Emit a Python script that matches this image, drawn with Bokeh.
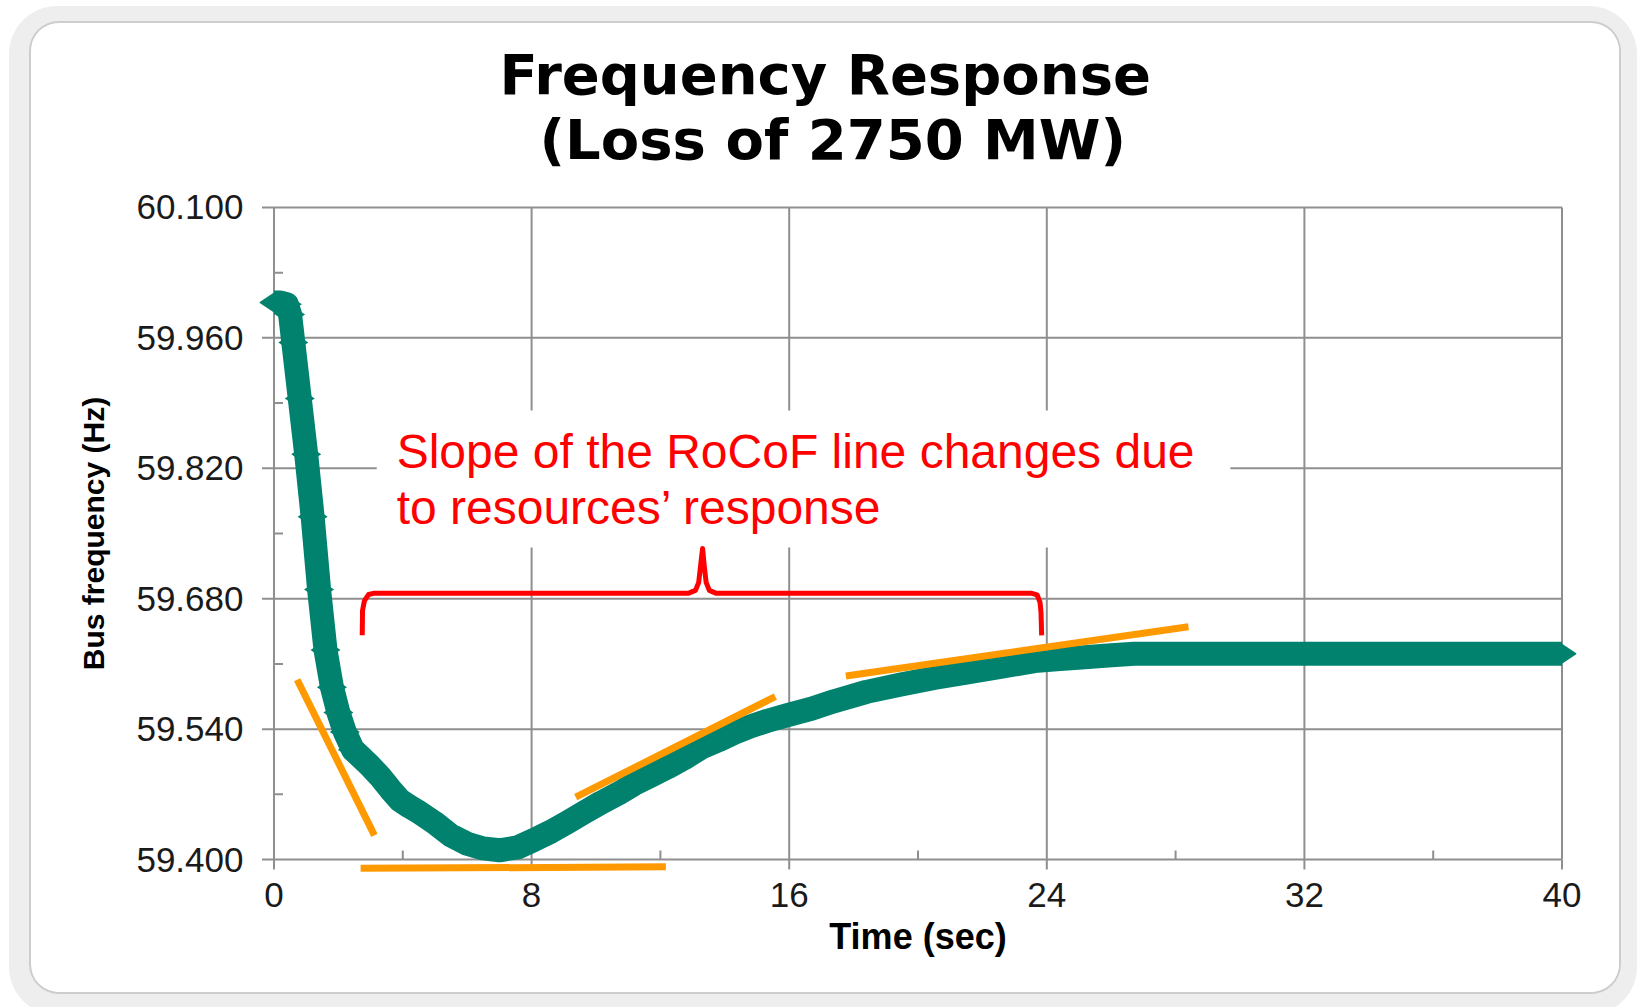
import math
from bokeh.plotting import figure
from bokeh.models import Range1d, FixedTicker, PrintfTickFormatter, Title
from bokeh.core.properties import value
from bokeh.embed import file_html
from bokeh.resources import INLINE

# ---- data ----
time_s = [0.0, 0.2, 0.4, 0.5, 0.6, 0.8, 1.0, 1.2, 1.4, 1.6, 1.8, 2.0, 2.2, 2.45, 2.7,
          3.0, 3.3, 3.6, 3.9, 4.2, 4.5, 4.97, 5.49, 6.0, 6.5, 7.0, 7.56, 8.07, 8.6,
          9.11, 9.6, 10.15, 10.7, 11.18, 11.7, 12.22, 12.75, 13.26, 13.8, 14.29, 14.8,
          15.33, 15.95, 16.7, 17.4, 18.4, 19.47, 20.5, 21.54, 22.6, 23.61, 24.3, 25.07,
          25.9, 26.72, 28.0, 30.0, 32.0, 34.0, 36.0, 38.0, 40.0]
freq_hz = [59.998, 59.998, 59.996, 59.985, 59.955, 59.895, 59.835, 59.768, 59.690, 59.625,
           59.585, 59.558, 59.537, 59.518, 59.510, 59.500, 59.489, 59.476, 59.464, 59.457,
           59.451, 59.440, 59.426, 59.417, 59.412, 59.410, 59.413, 59.421, 59.430, 59.440,
           59.450, 59.461, 59.471, 59.481, 59.490, 59.499, 59.509, 59.520, 59.528, 59.536,
           59.543, 59.549, 59.555, 59.562, 59.570, 59.580, 59.588, 59.595, 59.601, 59.607,
           59.613, 59.615, 59.617, 59.619, 59.621, 59.621, 59.621, 59.621, 59.621, 59.621,
           59.621, 59.621]

x_ticks = [0, 8, 16, 24, 32, 40]
x_minor = [4, 12, 20, 28, 36]
y_ticks = [59.40, 59.54, 59.68, 59.82, 59.96, 60.10]
y_minor = [59.47, 59.61, 59.75, 59.89, 60.03]
x_lim = [0, 40]
y_lim = [59.4, 60.1]

# RoCoF tangent lines (start/end)
tan_t0 = [0.72, 2.69, 9.37, 17.76]
tan_f0 = [59.593, 59.3906, 59.467, 59.597]
tan_t1 = [3.12, 12.17, 15.57, 28.40]
tan_f1 = [59.426, 59.3922, 59.575, 59.650]

# brace
brace_t = [2.74, 2.75, 2.81, 2.94, 3.12, 12.88, 13.09, 13.19, 13.25, 13.31, 13.36, 13.42,
           13.52, 13.72, 23.51, 23.70, 23.79, 23.82, 23.84]
brace_f = [59.6407, 59.6675, 59.678, 59.6845, 59.686, 59.686, 59.6889, 59.6976, 59.7158,
           59.7338, 59.7158, 59.6976, 59.6889, 59.686, 59.686, 59.6842, 59.676, 59.6654,
           59.6407]

# note box and text
box_t = [3.19, 29.70]
box_f = [59.735, 59.882]
note_lines = ["Slope of the RoCoF line changes due", "to resources\u2019 response"]
note_t = [3.81, 3.81]
note_f = [59.8382, 59.7774]

TEAL = "#00826f"
ORANGE = "#ff9900"
RED = "#ff0000"
GRID = "#8f8f8f"
FONT = "Liberation Sans"

# scale: px per unit, used only to size tick marks
PX_X = 32.175
PX_Y = 932.1

p = figure(width=1588, height=969, x_range=Range1d(-0.45, 40.45), y_range=Range1d(59.384, 60.116),
           output_backend="svg", toolbar_location=None,
           min_border_left=228, min_border_right=43, min_border_top=169, min_border_bottom=118)
p.margin = (23, 0, 0, 31)
p.styles = {"border-radius": "28px", "overflow": "hidden",
            "box-shadow": "0 0 0 2px #cdcdcd, -2px 3px 0 20px #eeeeee"}
p.background_fill_color = "white"
p.border_fill_color = "white"
p.outline_line_color = None
p.xgrid.visible = False
p.ygrid.visible = False

# titles (stacked outward from the plot area)
spacer = Title(text=" ", text_font_size="17px", standoff=0, text_color="white")
p.add_layout(spacer, "above")
t2 = Title(text="(Loss of 2750 MW)", align="left", offset=280, text_font="DejaVu Sans",
           text_font_size="56px", text_font_style="bold", text_color="black", standoff=0)
p.add_layout(t2, "above")
t1 = Title(text="Frequency Response", align="left", offset=240, text_font="DejaVu Sans",
           text_font_size="56px", text_font_style="bold", text_color="black", standoff=-5)
p.add_layout(t1, "above")

# grid lines (also the axis lines and the chart border)
p.segment(x0=x_ticks, y0=[y_lim[0]] * len(x_ticks), x1=x_ticks, y1=[y_lim[1]] * len(x_ticks),
          line_color=GRID, line_width=2, level="underlay")
p.segment(x0=[x_lim[0]] * len(y_ticks), y0=y_ticks, x1=[x_lim[1]] * len(y_ticks), y1=y_ticks,
          line_color=GRID, line_width=2, level="underlay")
# tick marks
p.segment(x0=[x_lim[0] - 12 / PX_X] * len(y_ticks), y0=y_ticks, x1=[x_lim[0]] * len(y_ticks), y1=y_ticks,
          line_color=GRID, line_width=2, level="underlay")
p.segment(x0=[x_lim[0]] * len(y_minor), y0=y_minor, x1=[x_lim[0] + 9 / PX_X] * len(y_minor), y1=y_minor,
          line_color=GRID, line_width=2, level="underlay")
p.segment(x0=x_ticks, y0=[y_lim[0]] * len(x_ticks), x1=x_ticks, y1=[y_lim[0] - 10 / PX_Y] * len(x_ticks),
          line_color=GRID, line_width=2, level="underlay")
p.segment(x0=x_minor, y0=[y_lim[0]] * len(x_minor), x1=x_minor, y1=[y_lim[0] + 9 / PX_Y] * len(x_minor),
          line_color=GRID, line_width=2, level="underlay")

# axes: labels only (lines/ticks drawn above)
for ax in (p.xaxis[0], p.yaxis[0]):
    ax.axis_line_color = None
    ax.major_tick_line_color = None
    ax.minor_tick_line_color = None
    ax.major_tick_in = 0
    ax.major_tick_out = 0
    ax.minor_tick_in = 0
    ax.minor_tick_out = 0
    ax.major_label_text_font = FONT
    ax.major_label_text_color = "#1a1a1a"
    ax.axis_label_text_font = FONT
    ax.axis_label_text_font_style = "bold"
    ax.axis_label_text_color = "black"

p.xaxis.ticker = FixedTicker(ticks=x_ticks)
p.xaxis.major_label_standoff = 8
p.xaxis.major_label_text_font_size = "35px"
p.xaxis.axis_label = "Time (sec)"
p.xaxis.axis_label_text_font_size = "36px"
p.xaxis.axis_label_standoff = 6

p.yaxis.ticker = FixedTicker(ticks=y_ticks)
p.yaxis.formatter = PrintfTickFormatter(format="%.3f")
p.yaxis.major_label_standoff = 16
p.yaxis.major_label_text_font_size = "35px"
p.yaxis.axis_label = "Bus frequency (Hz)"
p.yaxis.axis_label_text_font_size = "30px"
p.yaxis.axis_label_standoff = 23

# note box (covers grid lines)
p.quad(left=[box_t[0]], right=[box_t[1]], bottom=[box_f[0]], top=[box_f[1]],
       fill_color="white", line_color=None)
p.text(x=note_t, y=note_f, text=note_lines, text_color=RED,
       text_font=value(FONT), text_font_size="48px",
       text_baseline="alphabetic", text_align="left")

# curve
p.line(time_s, freq_hz, line_color=TEAL, line_width=24, line_join="round")
p.scatter(time_s, freq_hz, marker="diamond", size=30, angle=math.pi / 2,
          fill_color=TEAL, line_color=None)

# brace
p.line(brace_t, brace_f, line_color=RED, line_width=5, line_join="round")

# tangent lines
p.segment(x0=tan_t0, y0=tan_f0, x1=tan_t1, y1=tan_f1, line_color=ORANGE, line_width=7)

open("out.html", "w").write(file_html(p, INLINE))
